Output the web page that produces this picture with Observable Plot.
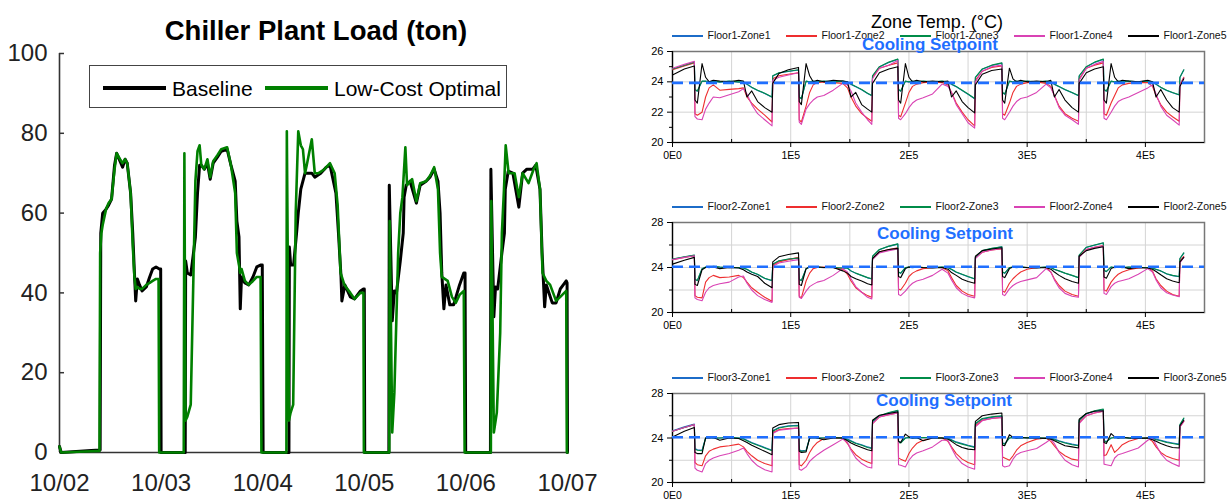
<!DOCTYPE html>
<html><head><meta charset="utf-8">
<script src="https://cdn.jsdelivr.net/npm/d3@7"></script>
<script src="https://cdn.jsdelivr.net/npm/@observablehq/plot@0.6"></script>
<style>
html,body{margin:0;padding:0;background:#fff;}
#root{position:relative;width:1227px;height:501px;overflow:hidden;font-family:'Liberation Sans',Arial,Helvetica,sans-serif;color:#111;}
</style></head>
<body><div id="root"></div>
<script>
// ---------------- Left chart data: chiller plant load (ton), hours from 10/02 00:00 ----------------
const dayLabels = ["10/02","10/03","10/04","10/05","10/06","10/07"];
const dayTickHours = [0,24,48,72,96,120];
const loadTicks = [0,20,40,60,80,100];
const seriesNames = ["Baseline","Low-Cost Optimal"];

const baselineHour = [0,0.4,7.5,9.6,9.75,10.2,11.0,11.6,12.3,13.0,13.5,14.3,14.9,15.5,16.0,16.8,17.3,17.7,18.0,18.4,18.9,19.5,20.5,21.3,22.0,22.8,23.6,23.9,24.0,
 29.7,29.8,30.2,31.0,31.65,32.1,32.6,33.1,33.5,34.2,34.95,35.6,36.3,37.3,38.2,39.6,40.5,41.5,41.9,42.4,42.7,43.0,43.8,44.7,45.7,46.6,47.6,47.9,48.1,
 54.2,54.3,54.6,55.3,56.0,56.4,57.0,57.5,58.0,59.6,60.3,61.7,63.0,63.9,65.3,65.9,66.5,66.7,67.4,68.7,69.7,71.1,71.8,72.0,72.1,
 77.8,77.9,78.6,79.1,79.6,80.5,81.2,81.4,81.9,82.8,84.3,85.2,86.6,87.5,88.5,89.4,89.9,90.3,90.8,91.3,92.2,93.1,94.5,95.5,95.8,95.95,
 101.8,101.9,102.6,103.0,103.5,104.5,105.1,105.3,106.0,107.1,108.5,109.4,110.4,111.8,112.5,113.5,114.0,114.6,115.0,116.4,117.3,118.3,119.7,119.9,120.0];
const baselineLoad = [1.5,0,0.5,0.6,55,60,61,62,63.5,72,75,73,71.5,73.5,72.5,65,55,45,38,43.5,42,40.5,41.5,44,46,46.5,46,46,0,
 0,48,45,44.5,50,54,65,72,72,71,72.5,68.5,72.5,74,75.5,76,72,68,58,54,36,44,42.5,42,44,46.5,47,47,0,
 0,51.5,47,47,55,60,66,68,70,70,69,70,71.5,72,65,55,44,38,42,39,38.5,40.5,41,41,0,
 0,67,33,40.5,40,48,55,64,67,68,62.5,67,68,69,71,68,60,45,36,42,37,37,42,45,45,0,
 0,71,34,41.5,41,50,55,66,70.5,70,61.5,70,71,71,72,66,50,36.5,42,37.5,37.5,41,43,42.5,0];

const optimalHour = [0,0.4,7.5,9.45,9.6,9.9,10.2,11.0,11.6,12.3,13.0,13.5,14.3,14.9,15.5,16.0,16.8,17.3,17.7,18.0,18.4,18.9,19.5,20.5,21.3,22.0,22.8,23.4,23.55,
 29.35,29.5,29.75,30.2,31.0,31.65,32.1,32.6,33.1,33.5,34.2,34.95,35.6,36.3,37.3,38.2,39.6,40.5,41.5,41.9,42.4,42.7,43.0,43.8,44.7,45.7,46.6,47.5,47.7,
 53.6,53.7,54.2,54.6,55.2,55.8,56.4,57.0,57.5,58.0,58.4,59.6,60.3,61.2,62.6,63.9,65.0,65.7,66.4,67.3,68.7,69.7,71.1,71.8,71.9,
 77.9,78.0,78.6,79.1,80.0,80.5,81.0,81.7,82.1,83.3,84.3,85.2,86.6,87.6,88.5,89.4,89.9,90.3,91.7,92.7,93.6,94.5,95.5,95.7,
 101.9,102.0,102.6,103.3,104.1,104.5,105.0,105.4,106.1,107.5,108.5,109.4,110.8,112.0,112.7,113.5,114.1,115.0,115.9,117.3,118.3,119.7,119.85,120.0];
const optimalLoad = [1.5,0,0.3,0.4,50,55,57,61,62.5,63.5,71,75,73.5,72.5,73.5,72.5,65,52,44,41,41.5,41,41,42,42.5,43,43.5,43.5,0,
 0,75,8,9,12,45,68,75.5,77,72,71,73.5,69,73,74.5,76,76.5,72,65,50,47,45,46,43,42,43,44,44,0,
 0,80.5,8,10,12,60,80.5,77,76,70,72,78.5,70,70,71,72.5,70,62,45,42,40,38.5,40,40,0,
 0,58,5,15,50,60,64,76.5,67,68.5,63,67.5,68,69.5,71.5,66,50,44,43,39,37.5,39.5,40.5,0,
 0,63,5,10,30,55,66,77,70,70,64,70,67.5,71,72.5,66,45,43,42,38,39,40.5,0,0];

// ---------------- Right panels data: zone temperatures (°C), time in kiloseconds ----------------
const floorNames = ["Floor1","Floor2","Floor3"];
const zoneNames = ["Zone1","Zone2","Zone3","Zone4","Zone5"];
const tempTickValues = [0,100000,200000,300000,400000];
const tempTickLabels = ["0E0","1E5","2E5","3E5","4E5"];
const tempMinorX = [50000,150000,250000,350000,450000];
const setpointTemps = [23.93, 24.07, 24.07];

const tempTimeKs = [0,10,18.5,19.0,21,25,28,31,34.5,40,48,56,60,63,67,72,78,84.2,84.8,90,98,
 106.6,107.2,109,113,116,119,122.5,128,136,144,148,151,155,160,165,168.6,169.2,175,183,
 190.6,191.2,193,197,200,203,206.5,212,220,228,233,236,240,245,250,255.6,256.2,262,270,
 278.6,279.2,281,285,288,291,294.5,300,308,316,320,323,327,332,338,343.4,344.0,350,357,
 364.4,365.0,367,371,374,377,380.5,386,394,402,406,409,413,418,423,428.6,429.2,432.5];

const floor1Zone1 = [24.83,25.08,25.28,23.48,23.38,24.03,24.03,23.98,24.03,23.98,24.03,23.98,23.98,23.83,23.63,23.43,23.23,22.98,24.38,24.58,24.68,
 24.78,22.98,22.88,24.03,23.98,24.03,23.98,24.03,23.98,24.03,23.98,23.83,23.68,23.48,23.23,23.08,24.38,24.98,25.28,
 25.48,23.48,23.38,24.03,23.98,24.03,23.98,24.03,23.98,24.03,23.98,23.83,23.68,23.43,23.18,22.88,24.28,24.83,25.08,
 25.23,23.28,23.18,24.03,23.98,24.03,23.98,24.03,23.98,24.03,23.98,23.83,23.68,23.48,23.28,23.08,24.38,24.98,25.28,
 25.48,23.48,23.38,24.03,23.98,24.03,23.98,24.03,23.98,24.03,23.98,23.83,23.63,23.43,23.28,23.13,24.28,24.78];
const floor1Zone2 = [24.8,25.05,25.25,21.9,21.8,22.0,23.0,23.6,23.8,23.45,23.5,23.55,23.6,23.0,22.6,22.2,21.8,21.35,24.2,24.4,24.5,
 24.6,21.5,21.35,22.4,23.3,23.8,23.95,24.0,23.95,23.9,23.6,23.0,22.4,21.9,21.6,21.4,24.3,24.9,25.1,
 25.25,21.8,21.7,22.6,23.3,23.7,23.85,23.95,24.0,23.95,23.8,23.3,22.6,22.0,21.5,21.1,24.1,24.7,24.95,
 25.05,21.9,21.8,22.6,23.3,23.7,23.85,23.95,24.0,23.9,23.7,23.1,22.4,21.9,21.6,21.4,24.2,24.9,25.1,
 25.25,21.9,21.8,22.6,23.1,23.6,23.8,23.9,23.95,23.95,23.7,23.1,22.5,22.0,21.7,21.4,23.8,24.3];
const floor1Zone3 = [24.85,25.1,25.3,23.5,23.4,24.05,24.05,24.0,24.05,24.0,24.05,24.0,24.0,23.85,23.65,23.45,23.25,23.0,24.4,24.6,24.7,
 24.8,23.0,22.9,24.05,24.0,24.05,24.0,24.05,24.0,24.05,24.0,23.85,23.7,23.5,23.25,23.1,24.4,25.0,25.3,
 25.5,23.5,23.4,24.05,24.0,24.05,24.0,24.05,24.0,24.05,24.0,23.85,23.7,23.45,23.2,22.9,24.3,24.85,25.1,
 25.25,23.3,23.2,24.05,24.0,24.05,24.0,24.05,24.0,24.05,24.0,23.85,23.7,23.5,23.3,23.1,24.4,25.0,25.3,
 25.5,23.5,23.4,24.05,24.0,24.05,24.0,24.05,24.0,24.05,24.0,23.85,23.65,23.45,23.3,23.15,24.3,24.8];
const floor1Zone4 = [24.9,25.15,25.35,21.7,21.55,21.5,22.2,22.6,23.0,22.95,23.15,23.35,23.55,23.2,22.5,21.9,21.5,21.1,24.1,24.3,24.45,
 24.6,21.35,21.2,22.2,22.55,22.8,23.0,23.1,23.45,23.9,23.8,23.4,22.6,22.0,21.5,21.2,24.2,24.9,25.1,
 25.4,21.6,21.5,21.9,22.3,22.6,22.8,22.95,23.2,23.85,23.7,23.3,22.5,21.9,21.3,20.95,24.0,24.7,25.0,
 25.1,21.6,21.5,22.0,22.4,22.7,22.9,23.0,23.3,23.85,23.6,23.1,22.3,21.8,21.5,21.2,24.1,24.9,25.15,
 25.35,21.6,21.5,22.0,22.4,22.7,22.85,23.0,23.3,23.6,23.8,23.2,22.4,21.8,21.5,21.15,23.8,24.25];
const floor1Zone5 = [24.45,24.85,25.05,22.8,22.6,25.2,24.3,24.0,24.1,24.05,24.0,24.1,24.05,23.0,23.4,22.7,22.3,22.0,23.9,24.55,24.8,
 24.95,22.7,22.5,25.2,24.4,24.0,24.1,24.0,24.1,24.05,24.0,23.0,23.3,22.5,22.2,22.0,23.9,24.6,24.85,
 25.0,22.8,22.6,25.2,24.3,24.0,24.1,24.0,24.05,24.0,24.05,23.0,23.4,22.7,22.3,21.95,23.8,24.5,24.75,
 24.85,22.8,22.6,24.9,24.2,24.0,24.1,24.0,24.05,24.0,24.1,23.0,23.5,22.8,22.3,22.0,23.9,24.6,24.85,
 25.0,22.8,22.6,25.2,24.3,24.0,24.1,24.05,24.0,24.1,24.0,23.0,23.5,22.8,22.3,22.0,23.7,24.2];

const floor2Zone1 = [24.73,24.93,25.08,22.93,22.83,23.88,24.03,23.98,24.08,24.03,23.98,23.98,23.93,23.83,23.58,23.38,23.03,22.83,24.28,24.58,24.73,
 24.83,22.93,22.83,23.88,24.03,23.98,24.03,23.98,23.98,23.93,23.93,23.68,23.48,23.28,23.08,22.98,24.98,25.58,25.88,
 26.08,23.58,23.48,23.98,24.03,23.98,24.03,23.98,23.98,24.03,23.98,23.83,23.58,23.38,23.18,22.98,24.88,25.48,25.68,
 25.83,23.58,23.48,23.98,24.03,23.98,24.03,23.98,23.98,24.03,23.98,23.83,23.68,23.48,23.28,23.08,25.08,25.78,25.98,
 26.18,23.73,23.63,24.03,23.98,24.03,23.98,24.03,23.98,23.98,23.93,23.83,23.68,23.43,23.28,23.18,24.78,25.28];
const floor2Zone2 = [24.7,24.9,25.05,21.5,21.35,21.3,22.7,23.1,23.3,23.1,23.15,23.3,23.1,22.7,22.2,21.8,21.35,21.0,24.2,24.5,24.7,
 24.9,21.45,21.3,22.8,23.5,23.9,24.0,24.05,24.0,23.85,23.4,22.8,22.2,21.8,21.5,21.35,24.8,25.4,25.6,
 25.75,22.1,22.0,22.6,23.2,23.5,23.7,23.9,24.0,24.0,23.7,23.1,22.4,21.9,21.6,21.45,24.9,25.35,25.55,
 25.65,21.9,21.8,22.6,23.0,23.3,23.6,23.85,24.0,24.0,23.6,23.0,22.4,21.9,21.6,21.45,25.0,25.6,25.8,
 25.95,22.0,21.9,22.7,23.1,23.4,23.6,23.8,23.95,24.0,23.7,23.0,22.4,21.9,21.6,21.45,24.6,25.0];
const floor2Zone3 = [24.75,24.95,25.1,22.95,22.85,23.9,24.05,24.0,24.1,24.05,24.0,24.0,23.95,23.85,23.6,23.4,23.05,22.85,24.3,24.6,24.75,
 24.85,22.95,22.85,23.9,24.05,24.0,24.05,24.0,24.0,23.95,23.95,23.7,23.5,23.3,23.1,23.0,25.0,25.6,25.9,
 26.1,23.6,23.5,24.0,24.05,24.0,24.05,24.0,24.0,24.05,24.0,23.85,23.6,23.4,23.2,23.0,24.9,25.5,25.7,
 25.85,23.6,23.5,24.0,24.05,24.0,24.05,24.0,24.0,24.05,24.0,23.85,23.7,23.5,23.3,23.1,25.1,25.8,26.0,
 26.2,23.75,23.65,24.05,24.0,24.05,24.0,24.05,24.0,24.0,23.95,23.85,23.7,23.45,23.3,23.2,24.8,25.3];
const floor2Zone4 = [24.7,24.9,25.05,21.3,21.15,21.05,21.8,22.2,22.4,22.55,22.7,23.15,23.25,22.6,22.0,21.5,21.15,20.9,24.1,24.4,24.55,
 24.7,21.35,21.25,21.9,22.3,22.5,22.7,22.85,23.3,23.9,23.6,23.0,22.3,21.8,21.35,21.2,24.7,25.3,25.5,
 25.65,21.6,21.5,21.9,22.3,22.6,22.8,22.95,23.3,23.85,23.5,22.9,22.2,21.7,21.45,21.3,24.8,25.35,25.55,
 25.7,21.6,21.5,22.1,22.4,22.6,22.75,22.9,23.1,23.9,23.6,22.9,22.2,21.7,21.45,21.35,24.9,25.6,25.8,
 25.9,21.7,21.6,22.3,22.6,22.75,22.85,23.0,23.4,23.9,23.6,22.9,22.2,21.75,21.55,21.4,24.4,24.9];
const floor2Zone5 = [24.3,24.65,24.9,22.5,22.4,23.8,24.0,24.0,24.05,23.9,24.0,23.95,23.8,23.6,23.4,23.2,22.6,22.2,24.5,24.95,25.15,
 25.3,22.5,22.4,23.9,24.05,24.0,24.05,24.0,24.0,23.7,23.5,23.2,23.0,22.8,22.55,22.45,24.8,25.4,25.6,
 25.7,23.2,23.1,23.9,24.05,24.0,24.05,24.0,23.95,24.0,23.85,23.55,23.3,22.95,22.75,22.6,25.0,25.5,25.65,
 25.75,23.2,23.1,23.9,24.05,24.0,24.05,24.0,23.95,24.0,23.85,23.6,23.3,23.0,22.75,22.6,25.0,25.5,25.7,
 25.85,23.15,23.05,23.9,24.05,24.0,24.05,23.9,24.0,23.95,23.85,23.65,23.35,23.0,22.8,22.65,24.5,24.9];

const floor3Zone1 = [24.65,25.0,25.25,23.05,22.95,22.9,24.0,24.05,24.0,24.0,24.05,24.0,23.95,23.8,23.6,23.4,23.15,22.9,24.65,24.95,25.1,
 25.15,22.95,22.85,22.9,24.0,24.05,24.0,24.0,24.05,24.0,23.9,23.75,23.55,23.4,23.2,23.1,25.45,25.95,26.25,
 26.45,23.65,23.6,24.0,24.05,24.0,24.0,24.05,24.0,24.0,24.0,23.85,23.65,23.5,23.35,23.2,25.25,25.7,25.85,
 25.95,23.55,23.5,24.0,24.05,24.0,24.0,24.05,24.0,24.0,24.0,23.9,23.75,23.6,23.45,23.35,25.55,26.15,26.4,
 26.55,23.75,23.7,24.0,24.05,24.0,24.05,24.0,24.0,24.0,24.0,23.9,23.8,23.65,23.55,23.45,25.15,25.75];
const floor3Zone2 = [24.6,24.95,25.2,21.8,21.6,21.5,22.4,22.8,23.0,23.2,23.3,23.45,23.2,22.8,22.4,22.0,21.7,21.5,24.5,24.75,24.85,
 24.9,21.6,21.5,22.0,22.7,23.2,23.6,23.95,24.0,24.0,23.5,23.0,22.5,22.1,21.85,21.7,25.3,25.9,26.1,
 26.25,22.2,22.1,21.9,22.6,23.1,23.5,23.8,24.0,24.0,23.7,23.2,22.6,22.1,21.8,21.6,25.1,25.6,25.75,
 25.85,22.3,22.2,22.0,22.4,22.9,23.3,23.6,23.9,24.0,23.7,23.3,22.8,22.4,22.1,22.0,25.4,26.0,26.25,
 26.4,22.4,22.5,23.4,22.7,23.0,23.4,23.7,23.95,24.0,23.7,23.2,22.7,22.35,22.15,22.0,25.0,25.5];
const floor3Zone3 = [24.6,24.95,25.2,23.0,22.9,22.85,24.0,24.05,24.0,24.0,24.05,24.0,23.9,23.75,23.55,23.35,23.1,22.85,24.6,24.9,25.05,
 25.1,22.9,22.8,22.85,24.0,24.05,24.0,24.0,24.05,24.0,23.85,23.7,23.5,23.35,23.15,23.05,25.5,26.0,26.3,
 26.5,23.6,23.55,24.0,24.05,24.0,24.0,24.05,24.0,24.0,23.95,23.8,23.6,23.45,23.3,23.15,25.3,25.75,25.9,
 26.0,23.5,23.45,24.0,24.05,24.0,24.0,24.05,24.0,24.0,23.95,23.85,23.7,23.55,23.4,23.3,25.6,26.2,26.45,
 26.6,23.7,23.65,24.0,24.05,24.0,24.05,24.0,24.0,24.0,23.95,23.85,23.75,23.6,23.5,23.4,25.2,25.8];
const floor3Zone4 = [24.6,24.95,25.2,21.3,21.1,20.95,21.7,22.0,22.2,22.4,22.6,22.9,23.1,22.6,22.0,21.5,21.15,20.95,24.4,24.7,24.8,
 24.9,21.2,21.1,21.4,21.9,22.2,22.5,22.9,23.4,23.9,23.6,22.9,22.2,21.7,21.4,21.3,25.3,25.9,26.1,
 26.25,21.6,21.55,21.4,22.0,22.4,22.65,22.85,23.2,23.8,23.8,23.1,22.3,21.7,21.4,21.2,25.0,25.55,25.75,
 25.85,21.5,21.4,21.5,22.1,22.5,22.7,22.85,23.05,23.6,23.9,23.5,22.7,22.0,21.6,21.4,25.3,26.0,26.25,
 26.4,21.65,21.6,21.5,22.2,22.5,22.6,22.8,23.1,23.8,24.0,23.4,22.6,22.0,21.7,21.45,25.0,25.5];
const floor3Zone5 = [24.1,24.6,24.95,22.7,22.6,22.6,24.0,24.0,24.05,23.8,24.0,23.95,23.75,23.6,23.35,23.1,22.8,22.5,24.9,25.2,25.35,
 25.4,22.8,22.7,22.75,24.0,24.05,24.0,23.85,24.0,24.0,23.75,23.55,23.35,23.15,22.95,22.85,25.6,26.05,26.2,
 26.35,23.7,23.6,24.35,24.1,24.0,24.05,23.75,24.0,24.0,23.9,23.7,23.4,23.15,23.0,22.95,25.5,26.0,26.15,
 26.25,23.35,23.3,24.3,24.05,24.0,24.05,24.0,24.0,23.95,23.9,23.75,23.55,23.3,23.2,23.1,25.7,26.2,26.4,
 26.45,23.6,23.5,24.4,24.1,24.0,24.05,24.0,23.95,24.0,23.85,23.7,23.5,23.3,23.15,23.1,25.1,25.6];

// ---------------- Styling ----------------
const FONT = "'Liberation Sans', Arial, Helvetica, sans-serif";
const zoneColors = ["rgb(28,108,200)","rgb(238,46,47)","rgb(0,140,72)","rgb(217,67,180)","rgb(0,0,0)"];
const spBlue = "#1f6fff";
const root = document.getElementById("root");

function addText(txt, cx, cy, css) {
  const d = document.createElement("div");
  d.textContent = txt;
  d.style.cssText = `position:absolute;left:${cx}px;top:${cy}px;transform:translate(-50%,-50%);white-space:nowrap;line-height:1;${css}`;
  root.appendChild(d);
  return d;
}
function placeSvg(svg, left, top) {
  svg.style.position = "absolute";
  svg.style.left = left + "px";
  svg.style.top = top + "px";
  root.appendChild(svg);
}

// ---------------- Left chart ----------------
const baseRows = baselineHour.map((h, i) => ({h, v: baselineLoad[i]}));
const optRows = optimalHour.map((h, i) => ({h, v: optimalLoad[i]}));
const leftW = 620, leftH = 501, lML = 59, lMR = 53, lMT = 53, lMB = 49;
const leftPlot = Plot.plot({
  width: leftW, height: leftH,
  marginLeft: lML, marginRight: lMR, marginTop: lMT, marginBottom: lMB,
  x: {domain: [0, 120], label: null},
  y: {domain: [0, 100], label: null},
  style: {fontFamily: FONT, fontSize: "24px", color: "#222", background: "transparent", overflow: "visible"},
  marks: [
    Plot.axisY({ticks: loadTicks, tickFormat: d => String(d), tickSize: 0, tickPadding: 12, fontSize: 24, label: null}),
    Plot.axisX({ticks: dayTickHours, tickFormat: d => dayLabels[dayTickHours.indexOf(d)], tickSize: 0, tickPadding: 21, fontSize: 24, label: null}),
    Plot.tickY(loadTicks, {y: d => d, insetRight: leftW - lML - lMR - 5, stroke: "#333", strokeWidth: 1.5}),
    Plot.ruleX([0], {stroke: "#333", strokeWidth: 1.6}),
    Plot.ruleY([0], {stroke: "#333", strokeWidth: 1.6}),
    Plot.line(baseRows, {x: "h", y: "v", stroke: "#000", strokeWidth: 3}),
    Plot.line(optRows, {x: "h", y: "v", stroke: "rgb(0,128,0)", strokeWidth: 2.6})
  ]
});
placeSvg(leftPlot, 0, 0);

addText("Chiller Plant Load (ton)", 316, 31, `font-size:27.5px;font-weight:bold;color:#000;font-family:${FONT}`);

// legend box
const lg = document.createElement("div");
lg.style.cssText = "position:absolute;left:89px;top:65px;width:416px;height:41px;border:1.5px solid #444;background:#fff;";
root.appendChild(lg);
function lgLine(left, color, w) {
  const d = document.createElement("div");
  d.style.cssText = `position:absolute;left:${left}px;top:20px;width:63px;height:${w}px;background:${color};`;
  lg.appendChild(d);
}
function lgText(left, txt) {
  const d = document.createElement("div");
  d.textContent = txt;
  d.style.cssText = `position:absolute;left:${left}px;top:21.5px;transform:translateY(-50%);font-size:21px;line-height:1;white-space:nowrap;color:#000;font-family:${FONT}`;
  lg.appendChild(d);
}
lgLine(13, "#000", 4); lgText(82, seriesNames[0]);
lgLine(175, "rgb(0,128,0)", 4); lgText(244, seriesNames[1]);

// ---------------- Right panels ----------------
const panelSeries = [
  [floor1Zone1, floor1Zone2, floor1Zone3, floor1Zone4, floor1Zone5],
  [floor2Zone1, floor2Zone2, floor2Zone3, floor2Zone4, floor2Zone5],
  [floor3Zone1, floor3Zone2, floor3Zone3, floor3Zone4, floor3Zone5]
];
const panelCfg = [
  {top: 40, height: 131, yDomain: [20, 26], yLab: [20, 22, 24, 26], yMinor: [21, 23, 25], yGrid: [22, 24], legendY: 35, spX: 930, spY: 43.5},
  {top: 211, height: 130, yDomain: [20, 28], yLab: [20, 24, 28], yMinor: [22, 26], yGrid: [22, 24, 26], legendY: 206, spX: 945, spY: 233},
  {top: 382, height: 129, yDomain: [20, 28], yLab: [20, 24, 28], yMinor: [22, 26], yGrid: [22, 24, 26], legendY: 377, spX: 944, spY: 400}
];

panelCfg.forEach((cfg, p) => {
  const mT = 11, mB = 29, mL = 52, mR = 23, W = 607;
  const plotH = cfg.height - mT - mB;
  const lineMarks = panelSeries[p].map((vals, k) =>
    Plot.line(vals.map((v, i) => ({t: tempTimeKs[i] * 1000, v})), {x: "t", y: "v", stroke: zoneColors[k], strokeWidth: 1.1})
  );
  const svg = Plot.plot({
    width: W, height: cfg.height,
    marginLeft: mL, marginRight: mR, marginTop: mT, marginBottom: mB,
    x: {domain: [0, 450000], label: null},
    y: {domain: cfg.yDomain, label: null},
    style: {fontFamily: FONT, fontSize: "11px", color: "#000", background: "transparent", overflow: "visible"},
    marks: [
      Plot.gridX({ticks: tempMinorX.concat(tempTickValues.slice(1)), stroke: "#d4d4d4", strokeOpacity: 1}),
      Plot.gridY({ticks: cfg.yGrid, stroke: "#d4d4d4", strokeOpacity: 1}),
      Plot.frame({stroke: "#777", strokeWidth: 1.5}),
      Plot.ruleX([0], {stroke: "#000", strokeWidth: 1.2}),
      Plot.ruleY([cfg.yDomain[0]], {stroke: "#000", strokeWidth: 1.2}),
      Plot.axisX({ticks: tempTickValues, tickFormat: d => tempTickLabels[tempTickValues.indexOf(d)], tickSize: 5, tickPadding: 4, fontSize: 10.5, label: null}),
      Plot.tickX(tempMinorX.slice(0, 4), {x: d => d, insetTop: plotH - 3, stroke: "#000"}),
      Plot.axisY({ticks: cfg.yLab, tickFormat: d => String(d), tickSize: 5, tickPadding: 4, fontSize: 11, label: null}),
      Plot.axisY({ticks: cfg.yMinor, tickSize: 3, tickFormat: () => "", label: null}),
      ...lineMarks,
      Plot.ruleY([setpointTemps[p]], {stroke: spBlue, strokeWidth: 2.6, strokeDasharray: "11,6"})
    ]
  });
  placeSvg(svg, 620, cfg.top);

  // legend row
  zoneNames.forEach((z, k) => {
    const x0 = 672 + 114 * k;
    const ln = document.createElement("div");
    ln.style.cssText = `position:absolute;left:${x0}px;top:${Math.round(cfg.legendY)}px;width:31px;height:1.6px;background:${zoneColors[k]};`;
    root.appendChild(ln);
    const tx = document.createElement("div");
    tx.textContent = `${floorNames[p]}-${z}`;
    tx.style.cssText = `position:absolute;left:${x0 + 35.5}px;top:${cfg.legendY}px;transform:translateY(-50%);font-size:10.5px;line-height:1;white-space:nowrap;color:#111;font-family:${FONT}`;
    root.appendChild(tx);
  });
  addText("Cooling Setpoint", cfg.spX, cfg.spY, `font-size:17px;font-weight:bold;color:${spBlue};font-family:${FONT}`);
});

addText("Zone Temp. (°C)", 937, 21.5, `font-size:18px;color:#000;font-family:${FONT}`);
</script>
</body></html>
